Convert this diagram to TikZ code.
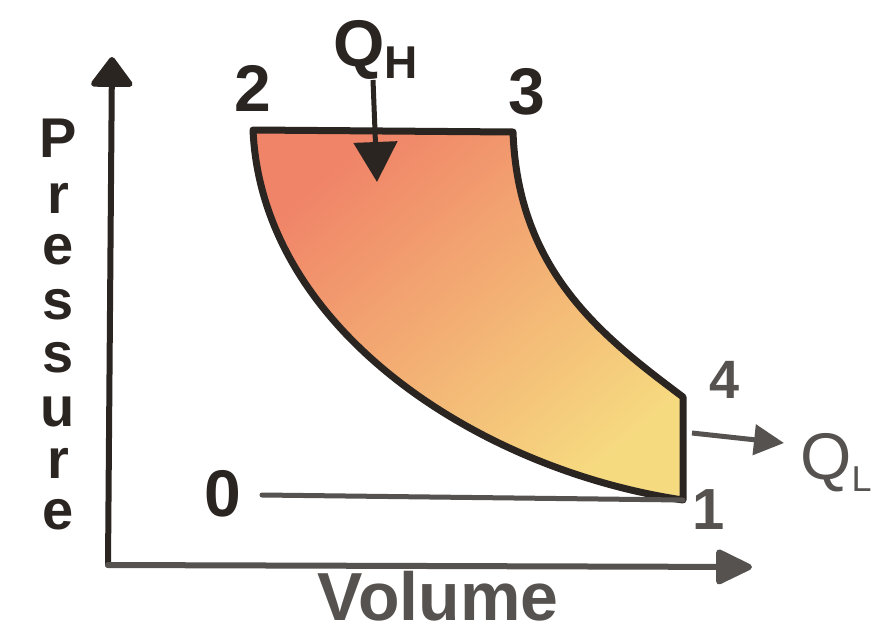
\documentclass[tikz,border=0pt]{standalone}
\usepackage{fontspec}
\setmainfont{Liberation Sans}
\usetikzlibrary{arrows.meta}
\definecolor{ink}{HTML}{2B2522}
\definecolor{greyink}{HTML}{55524F}
\definecolor{salmon}{HTML}{F08468}
\definecolor{midorange}{HTML}{F3B570}
\definecolor{paleyellow}{HTML}{F6DA80}
\tikzset{
  lbl/.style={font=\fontsize{66}{66}\selectfont\bfseries, text=ink, inner sep=0pt},
  smalllbl/.style={font=\fontsize{54}{54}\selectfont\bfseries, text=greyink, inner sep=0pt},
  presslbl/.style={font=\fontsize{56}{56}\selectfont\bfseries, text=ink, inner sep=0pt},
  axis/.style={draw=ink, line width=6pt, line cap=round, line join=round},
  cycleline/.style={draw=ink, line width=7pt, line join=round, line cap=round},
  heatarrow/.style={draw=ink, line width=5pt, -{Triangle[width=43pt,length=40pt]}},
}
\begin{document}
\begin{tikzpicture}[x=1pt,y=-1pt]
\useasboundingbox (0,0) rectangle (883,635);
% key points
\coordinate (origin) at (108,565);
\coordinate (ytip) at (112,57);
\coordinate (xtip) at (752,567);
\coordinate (p2) at (253,130);
\coordinate (p3) at (513,132);
\coordinate (p4) at (683,397);
\coordinate (p1) at (683,500);
\coordinate (p0) at (262,495);
% fill
\shade[top color=salmon, middle color=midorange, bottom color=paleyellow, shading angle=40]
  (p2) -- (p3) .. controls (518,270) and (600,335) .. (p4) -- (p1)
  .. controls (480,470) and (262,330) .. (p2) -- cycle;
% cycle outline
\draw[cycleline] (p2) -- (p3) .. controls (518,270) and (600,335) .. (p4) -- (p1)
  .. controls (480,470) and (262,330) .. (p2) -- cycle;
\draw[cycleline, draw=greyink, line width=5pt] (p0) -- (p1);
% axes
\draw[axis, -{Triangle[width=46pt,length=32pt,round]}] (origin) -- (ytip);
\draw[axis, draw=greyink, -{Triangle[width=37pt,length=40pt,round]}] (origin) -- (xtip);
% heat arrows
\coordinate (qhstart) at (373,80);
\coordinate (qhend) at (377,182);
\draw[heatarrow] (qhstart) -- (qhend);
\coordinate (qlstart) at (692,433);
\coordinate (qlend) at (784,443);
\draw[draw=greyink, line width=5pt, -{Triangle[width=30pt,length=30pt]}] (qlstart) -- (qlend);
% labels
\node[lbl] (l2) at (253,88) {2};
\node[lbl] (l3) at (527,92) {3};
\node[lbl, anchor=base west] (lqh) at (333,66) {Q\raisebox{-12pt}{\fontsize{46}{46}\selectfont H}};
\node[lbl] (l0) at (223,494) {0};
\node[smalllbl] (l4) at (725,380) {4};
\node[smalllbl, font=\fontsize{58}{58}\selectfont\bfseries] (l1) at (709,510) {1};
\node[smalllbl, font=\fontsize{66}{66}\selectfont, anchor=base west] (lql) at (800,479) {Q\raisebox{-12pt}{\fontsize{36}{36}\selectfont L}};
\node[font=\fontsize{68}{68}\selectfont\bfseries, text=greyink, inner sep=0pt, anchor=base] (lvol) at (438,620) {Volume};
% Pressure, stacked letters
\foreach \ch/\yy [count=\i] in {P/138, r/198, e/250, s/305, s/358, u/412, r/463, e/515}{
  \node[presslbl] (press\i) at (58,\yy) {\ch};
}
\end{tikzpicture}
\end{document}
